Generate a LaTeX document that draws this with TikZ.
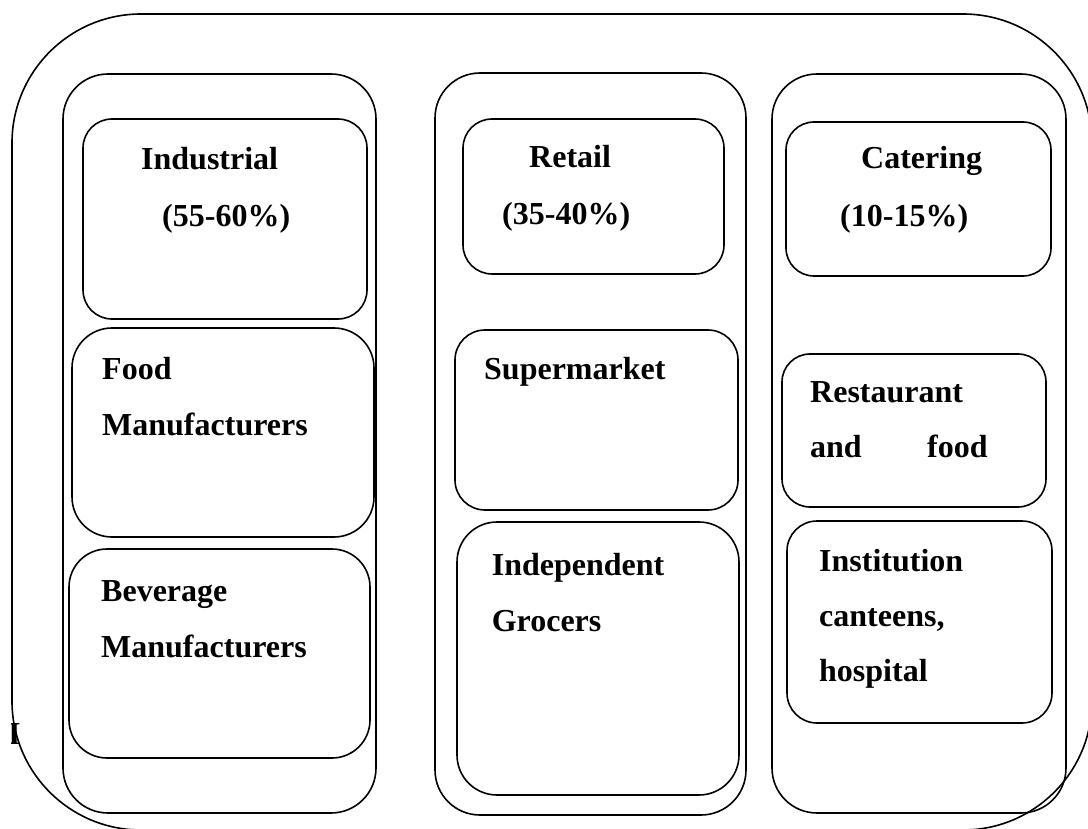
\documentclass[tikz,border=0pt]{standalone}
\usepackage{fontspec}
\setmainfont{Liberation Serif}
\begin{document}
\begin{tikzpicture}[x=1pt,y=-1pt,
  shp/.style={draw=black,line width=1.6pt},
  lbl/.style={anchor=base west,inner sep=0pt,font=\fontsize{32}{38}\bfseries\selectfont}]
\useasboundingbox (0,0) rectangle (1088,829);
\clip (0,0) rectangle (1088,829);
% stray glyph at the left
\begin{scope}
\clip (11,700) rectangle (40,760);
\node[lbl] (stray) at (8,744) {I};
\end{scope}
% outer frame
\draw[shp,rounded corners=129pt] (12,14) rectangle (1092,830);
% columns
\draw[shp,rounded corners=45pt] (63,74) rectangle (376,813);
\draw[shp,rounded corners=45pt] (435,73) rectangle (746,815);
\draw[shp,rounded corners=45pt] (772,74) rectangle (1066,813);
% boxes, left column
\draw[shp,rounded corners=29pt] (83,119) rectangle (367,319);
\draw[shp,rounded corners=40pt] (72,328) rectangle (374,537);
\draw[shp,rounded corners=38pt] (69,549) rectangle (370,758);
% middle column
\draw[shp,rounded corners=29pt] (463,119) rectangle (724,274);
\draw[shp,rounded corners=30pt] (455,330) rectangle (738,510);
\draw[shp,rounded corners=40pt] (457,522) rectangle (739,795);
% right column
\draw[shp,rounded corners=28pt] (786,122) rectangle (1051,276);
\draw[shp,rounded corners=28pt] (782,354) rectangle (1046,507);
\draw[shp,rounded corners=30pt] (787,521) rectangle (1052,723);
% labels
\node[lbl] (ind) at (141,170) {Industrial};
\node[lbl] (indp) at (162,227) {(55-60\%)};
\node[lbl] (food1) at (102,379) {Food};
\node[lbl] (food2) at (102,435) {Manufacturers};
\node[lbl] (bev1) at (101,601) {Beverage};
\node[lbl] (bev2) at (101,657) {Manufacturers};
\node[lbl] (ret) at (529,168) {Retail};
\node[lbl] (retp) at (502,225) {(35-40\%)};
\node[lbl] (sup) at (484,379) {Supermarket};
\node[lbl] (indep1) at (491.6,575) {Independent};
\node[lbl] (indep2) at (491.6,631) {Grocers};
\node[lbl] (cat) at (861,169) {Catering};
\node[lbl] (catp) at (840,227) {(10-15\%)};
\node[lbl] (rest1) at (810,402) {Restaurant};
\node[lbl] (rest2) at (810,457) {and};
\node[lbl] (rest3) at (927,457) {food};
\node[lbl] (inst1) at (819,571) {Institution};
\node[lbl] (inst2) at (819,626) {canteens,};
\node[lbl] (inst3) at (819,681) {hospital};
\end{tikzpicture}
\end{document}
